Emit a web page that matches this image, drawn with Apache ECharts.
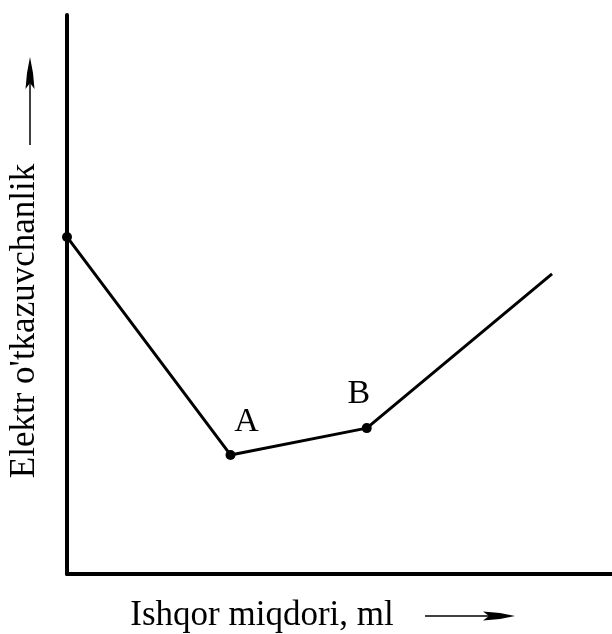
<!DOCTYPE html>
<html>
<head>
<meta charset="utf-8">
<script src="https://cdn.jsdelivr.net/npm/echarts@6/dist/echarts.min.js"></script>
<style>
html,body{margin:0;padding:0;background:#fff;}
#c{width:612px;height:634px;}
</style>
</head>
<body>
<div id="c"></div>
<script>
// Data
var xValues = [0, 30, 55, 89];
var yValues = [60.3, 21.3, 26.1, 53.7];
var pointLabels = ['', 'A', 'B', ''];
var markerShown = [true, true, true, false];
var xTitle = 'Ishqor miqdori, ml';
var yTitle = "Elektr o'tkazuvchanlik";

var FONT = '"Liberation Serif", "Times New Roman", serif';
var labelOffsets = {A: [16, -33], B: [-8, -34]};

var seriesData = xValues.map(function (x, i) {
  var d = {value: [x, yValues[i]]};
  if (!markerShown[i]) d.symbolSize = 0;
  if (pointLabels[i]) {
    d.label = {
      show: true, formatter: pointLabels[i], position: 'inside',
      offset: labelOffsets[pointLabels[i]], color: '#000',
      fontFamily: FONT, fontSize: 34, align: 'center', verticalAlign: 'middle'
    };
  }
  return d;
});

var chart = echarts.init(document.getElementById('c'), null, {renderer: 'canvas'});
chart.setOption({
  animation: false,
  backgroundColor: '#fff',
  grid: {left: 67, right: 0, top: 15, bottom: 60, containLabel: false},
  xAxis: {
    type: 'value', min: 0, max: 100,
    axisLine: {show: true, lineStyle: {color: '#000', width: 4}},
    axisTick: {show: false}, axisLabel: {show: false}, splitLine: {show: false}
  },
  yAxis: {
    type: 'value', min: 0, max: 100,
    axisLine: {show: true, lineStyle: {color: '#000', width: 4}},
    axisTick: {show: false}, axisLabel: {show: false}, splitLine: {show: false}
  },
  series: [{
    type: 'line',
    data: seriesData,
    symbol: 'circle',
    symbolSize: 10,
    itemStyle: {color: '#000'},
    lineStyle: {color: '#000', width: 3},
    label: {show: false}
  }],
  graphic: [
    {
      type: 'text', x: 262, y: 616,
      style: {text: xTitle, font: '35px ' + FONT, fill: '#000', textAlign: 'center', textVerticalAlign: 'middle'}
    },
    {
      type: 'line', shape: {x1: 425, y1: 616, x2: 492, y2: 616},
      style: {stroke: '#000', lineWidth: 1.5}
    },
    {
      type: 'polygon',
      shape: {points: [[483, 611.5], [500, 613], [515, 616], [500, 619], [483, 620.5], [489, 616]]},
      style: {fill: '#000'}
    },
    {
      type: 'text', x: 25, y: 321, rotation: Math.PI / 2,
      style: {text: yTitle, font: '35px ' + FONT, fill: '#000', textAlign: 'center', textVerticalAlign: 'middle'}
    },
    {
      type: 'line', shape: {x1: 30, y1: 145, x2: 30, y2: 82},
      style: {stroke: '#000', lineWidth: 1.5}
    },
    {
      type: 'polygon',
      shape: {points: [[25.5, 89], [27, 73], [30, 57], [33, 73], [34.5, 89], [30, 83]]},
      style: {fill: '#000'}
    }
  ]
});
</script>
</body>
</html>
